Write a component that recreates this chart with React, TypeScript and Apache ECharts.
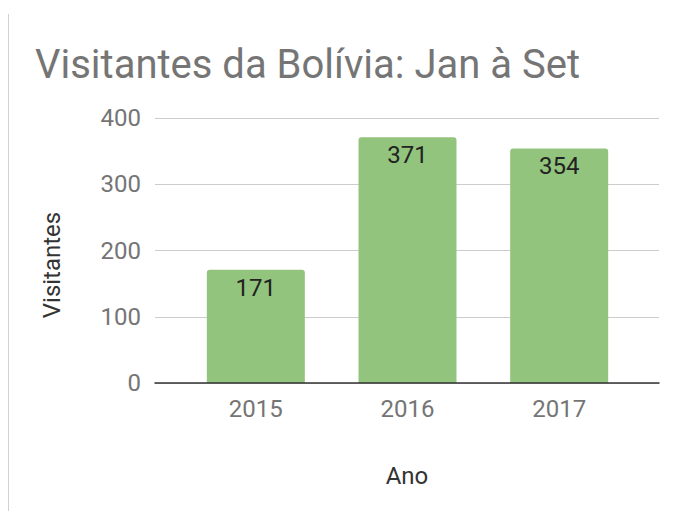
import React, { useEffect, useRef } from "react";
import * as echarts from "echarts";

const titleText = "Visitantes da Bolívia: Jan à Set";
const categories = ["2015", "2016", "2017"];
const visitors = [171, 371, 354];
const yTicks = [0, 100, 200, 300, 400];
const yAxisTitle = "Visitantes";
const xAxisTitle = "Ano";

export default function App() {
  const ref = useRef<HTMLDivElement>(null);
  useEffect(() => {
    document.body.style.margin = "0";
    if (!ref.current) return;
    const chart = echarts.init(ref.current, undefined, { renderer: "svg" });
    const font = "Roboto";
    const yMax = yTicks[yTicks.length - 1];
    const yInterval = yTicks[1] - yTicks[0];
    chart.setOption({
      animation: false,
      backgroundColor: "#ffffff",
      textStyle: { fontFamily: font },
      grid: [
        { left: 155, right: 19, top: 118, bottom: 128 },
        { left: 180, right: 43, top: 118, bottom: 128 },
      ],
      xAxis: [
        {
          gridIndex: 0,
          type: "category",
          data: [""],
          axisLabel: { show: false },
          axisTick: { show: false },
          axisLine: { show: true, lineStyle: { color: "#333333", width: 1.5 } },
          z: 5,
        },
        {
          gridIndex: 1,
          type: "category",
          data: categories,
          axisLine: { show: false },
          axisTick: { show: false },
          axisLabel: { margin: 14, fontSize: 24, color: "#757575", fontFamily: font },
        },
      ],
      yAxis: [
        {
          gridIndex: 0,
          type: "value",
          min: 0,
          max: yMax,
          interval: yInterval,
          axisLine: { show: false },
          axisTick: { show: false },
          axisLabel: { margin: 14, fontSize: 24, color: "#757575", fontFamily: font },
          splitLine: { lineStyle: { color: "#cccccc", width: 1 } },
        },
        {
          gridIndex: 1,
          type: "value",
          min: 0,
          max: yMax,
          interval: yInterval,
          show: false,
          splitLine: { show: false },
        },
      ],
      series: [
        {
          type: "bar",
          xAxisIndex: 1,
          yAxisIndex: 1,
          data: visitors,
          barWidth: 98,
          itemStyle: { color: "#93c47d", borderRadius: [3, 3, 0, 0] },
          label: {
            show: true,
            position: "insideTop",
            distance: 6,
            fontSize: 24,
            color: "#222222",
            fontFamily: font,
          },
          z: 3,
        },
      ],
      graphic: [
        {
          type: "line",
          shape: { x1: 8.5, y1: 14, x2: 8.5, y2: 511 },
          style: { stroke: "#d0d0d0", lineWidth: 1 },
        },
        {
          type: "text",
          x: 35,
          y: 64,
          style: {
            text: titleText,
            fontSize: 40,
            fontFamily: font,
            fill: "#757575",
            align: "left",
            verticalAlign: "middle",
          },
        },
        {
          type: "text",
          x: 52,
          y: 265,
          rotation: Math.PI / 2,
          style: {
            text: yAxisTitle,
            fontSize: 24,
            fontFamily: font,
            fill: "#333333",
            align: "center",
            verticalAlign: "middle",
          },
        },
        {
          type: "text",
          x: 407,
          y: 476,
          style: {
            text: xAxisTitle,
            fontSize: 24,
            fontFamily: font,
            fill: "#333333",
            align: "center",
            verticalAlign: "middle",
          },
        },
      ],
    });
    return () => chart.dispose();
  }, []);
  return <div ref={ref} style={{ width: 678, height: 511 }} />;
}
